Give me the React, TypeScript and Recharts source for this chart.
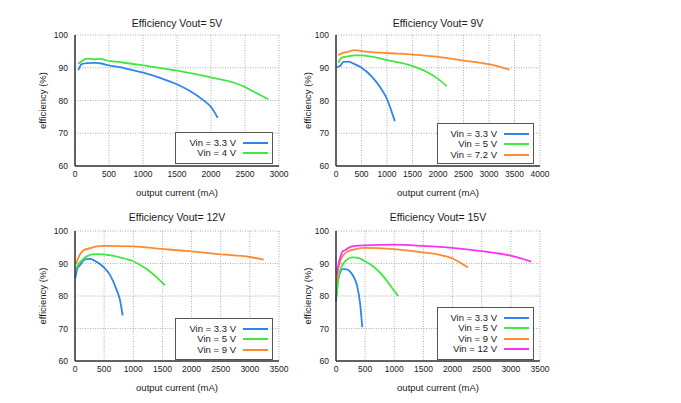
import React from 'react';
import { LineChart, Line, XAxis, YAxis, CartesianGrid, Legend, Label } from 'recharts';

const W = 681;
const H = 403;
const FONT = '"Liberation Sans", Arial, Helvetica, sans-serif';
const TEXT = '#1a1a1a';

const BLUE = '#2f83f2';
const GREEN = '#3fe83f';
const ORANGE = '#ff8a30';
const MAGENTA = '#ff30f4';

// tick labels
const yTicks = [60, 70, 80, 90, 100];
const xTicks3000 = [0, 500, 1000, 1500, 2000, 2500, 3000];
const xTicks4000 = [0, 500, 1000, 1500, 2000, 2500, 3000, 3500, 4000];
const xTicks3500 = [0, 500, 1000, 1500, 2000, 2500, 3000, 3500];

// [output current mA, efficiency %]
// Vout = 5V
const v5Vin33 = [[49, 89.3], [98, 91.1], [172, 91.4], [294, 91.5], [392, 91.3], [500, 90.7], [662, 90.2], [800, 89.5], [1005, 88.5], [1250, 86.9], [1505, 84.9], [1691, 82.9], [1887, 80.1], [2010, 77.8], [2098, 74.7]];
const v5Vin4 = [[49, 91.2], [98, 92.0], [172, 92.8], [270, 92.6], [368, 92.7], [500, 92.1], [700, 91.6], [1005, 90.7], [1505, 89.1], [2010, 87.0], [2328, 85.5], [2510, 84.0], [2672, 82.2], [2843, 80.4]];
// Vout = 9V
const v9Vin33 = [[13, 90.2], [85, 90.6], [143, 91.8], [241, 91.9], [339, 91.3], [502, 90.0], [698, 87.4], [860, 84.2], [1004, 80.3], [1088, 76.7], [1154, 73.7]];
const v9Vin5 = [[46, 91.5], [111, 93.1], [209, 93.4], [372, 93.8], [502, 93.8], [697, 93.4], [1004, 92.3], [1506, 90.5], [1773, 88.8], [2001, 86.6], [2171, 84.4]];
const v9Vin72 = [[46, 93.8], [111, 94.4], [209, 94.8], [372, 95.4], [502, 95.1], [1004, 94.5], [1506, 94.0], [2001, 93.3], [2503, 92.2], [3018, 91.0], [3403, 89.4]];
// Vout = 12V
const v12Vin33 = [[6, 85.5], [40, 88.5], [86, 89.5], [171, 91.3], [257, 91.4], [371, 90.5], [485, 89.0], [600, 86.5], [714, 81.9], [771, 78.8], [817, 74.0]];
const v12Vin5 = [[17, 88.3], [57, 89.8], [114, 90.9], [200, 92.2], [343, 92.9], [485, 92.8], [771, 91.9], [999, 90.7], [1228, 88.3], [1399, 85.8], [1542, 83.3]];
const v12Vin9 = [[17, 89.8], [74, 92.4], [143, 94.0], [257, 94.7], [371, 95.3], [485, 95.4], [999, 95.3], [1485, 94.5], [1999, 93.7], [2496, 92.8], [2998, 92.0], [3238, 91.2]];
// Vout = 15V
const v15Vin33 = [[0, 78.3], [23, 83.4], [58, 86.5], [115, 88.3], [185, 88.2], [242, 87.5], [300, 86.0], [358, 83.4], [416, 77.3], [450, 70.4]];
const v15Vin5 = [[12, 79.9], [40, 85.5], [98, 89.1], [185, 91.1], [271, 91.9], [358, 91.8], [497, 90.7], [647, 89.0], [820, 85.9], [964, 82.4], [1068, 80.0]];
const v15Vin9 = [[12, 84.4], [40, 88.5], [69, 90.5], [127, 92.6], [214, 93.8], [329, 94.4], [497, 94.8], [993, 94.4], [1495, 93.4], [1744, 92.8], [1992, 91.6], [2263, 88.8]];
const v15Vin12 = [[12, 86.5], [40, 89.5], [69, 91.6], [115, 93.8], [156, 94.1], [214, 94.8], [329, 95.4], [497, 95.6], [993, 95.8], [1495, 95.4], [1992, 94.8], [2494, 93.8], [2997, 92.4], [3349, 90.6]];

const toPts = (a: number[][]) => a.map(([current, eff]) => ({ current, eff }));

type Series = { name: string; color: string; data: number[][] };
type Rect = { x0: number; x1: number; y0: number; y1: number };
type Leg = { x: number; y: number; w: number; h: number; textW: number };

type PanelProps = {
  title: string;
  series: Series[];
  xTicks: number[];
  plot: Rect;
  titleY: number;
  xTitleY: number;
  yTitleX: number;
  legend: Leg;
};

function Panel({ title, series, xTicks, plot, titleY, xTitleY, yTitleX, legend }: PanelProps) {
  const Yw = 40;
  const Xh = 30;
  const margin = { left: plot.x0 - Yw, top: plot.y0, right: W - plot.x1, bottom: H - plot.y1 - Xh };
  const cx = (plot.x0 + plot.x1) / 2;
  const cy = (plot.y0 + plot.y1) / 2;
  const tickStyle = { fontSize: 8.5, fill: TEXT, fontFamily: FONT };
  const renderLegend = () => (
    <div
      style={{
        boxSizing: 'border-box',
        width: legend.w,
        height: legend.h,
        border: '1px solid #555',
        background: '#fff',
        paddingTop: 4.5,
        fontFamily: FONT,
        fontSize: 9.5,
        color: TEXT,
      }}
    >
      {series.map((s) => (
        <div key={s.name} style={{ display: 'flex', alignItems: 'center', height: 10.5 }}>
          <div style={{ width: legend.textW, textAlign: 'right', whiteSpace: 'nowrap', lineHeight: '10.5px' }}>
            {s.name}
          </div>
          <div style={{ marginLeft: 7, width: 25, height: 2, background: s.color }} />
        </div>
      ))}
    </div>
  );
  return (
    <div style={{ position: 'absolute', left: 0, top: 0, width: W, height: H }}>
      <div
        style={{
          position: 'absolute',
          left: plot.x0,
          width: plot.x1 - plot.x0,
          top: titleY - 7,
          height: 14,
          lineHeight: '14px',
          textAlign: 'center',
          fontFamily: FONT,
          fontSize: 10.5,
          color: TEXT,
          whiteSpace: 'nowrap',
        }}
      >
        {title}
      </div>
      <LineChart width={W} height={H} margin={margin}>
        <CartesianGrid stroke="#999" strokeDasharray="1 1.5" strokeWidth={0.8} />
        <XAxis
          type="number"
          dataKey="current"
          domain={[0, xTicks[xTicks.length - 1]]}
          ticks={xTicks}
          interval={0}
          height={Xh}
          tickSize={0}
          tickMargin={5}
          tickLine={false}
          tick={tickStyle}
          axisLine={{ stroke: '#333', strokeWidth: 1.5 }}
        >
          <Label
            content={() => (
              <text x={cx} y={xTitleY} textAnchor="middle" dominantBaseline="central" fontSize={9.5} fontFamily={FONT} fill={TEXT}>
                output current (mA)
              </text>
            )}
          />
        </XAxis>
        <YAxis
          type="number"
          domain={[60, 100]}
          ticks={yTicks}
          interval={0}
          width={Yw}
          tickSize={0}
          tickMargin={7}
          tickLine={false}
          tick={tickStyle}
          axisLine={{ stroke: '#333', strokeWidth: 1.5 }}
        >
          <Label
            content={() => (
              <text
                x={yTitleX}
                y={cy}
                transform={`rotate(-90 ${yTitleX} ${cy})`}
                textAnchor="middle"
                dominantBaseline="central"
                fontSize={9.5}
                fontFamily={FONT}
                fill={TEXT}
              >
                efficiency (%)
              </text>
            )}
          />
        </YAxis>
        {series.map((s) => (
          <Line
            key={s.name}
            name={s.name}
            data={toPts(s.data)}
            dataKey="eff"
            type="monotone"
            stroke={s.color}
            strokeWidth={1.8}
            dot={false}
            activeDot={false}
            isAnimationActive={false}
          />
        ))}
        <Legend
          layout="horizontal"
          verticalAlign="middle"
          align="center"
          wrapperStyle={{ left: legend.x, top: legend.y, width: legend.w, height: legend.h }}
          content={renderLegend}
        />
      </LineChart>
    </div>
  );
}

export default function App() {
  return (
    <div style={{ position: 'absolute', left: 0, top: 0, width: W, height: H, background: '#fff', overflow: 'hidden' }}>
      <Panel
        title="Efficiency Vout= 5V"
        xTicks={xTicks3000}
        plot={{ x0: 75, x1: 279, y0: 35, y1: 166 }}
        titleY={22.5}
        xTitleY={192}
        yTitleX={42}
        legend={{ x: 175, y: 132, w: 98, h: 32, textW: 60 }}
        series={[
          { name: 'Vin = 3.3 V', color: BLUE, data: v5Vin33 },
          { name: 'Vin = 4 V', color: GREEN, data: v5Vin4 },
        ]}
      />
      <Panel
        title="Efficiency Vout= 9V"
        xTicks={xTicks4000}
        plot={{ x0: 336, x1: 540, y0: 35, y1: 166 }}
        titleY={22.5}
        xTitleY={192}
        yTitleX={307}
        legend={{ x: 437, y: 123, w: 97, h: 41, textW: 59 }}
        series={[
          { name: 'Vin = 3.3 V', color: BLUE, data: v9Vin33 },
          { name: 'Vin = 5 V', color: GREEN, data: v9Vin5 },
          { name: 'Vin = 7.2 V', color: ORANGE, data: v9Vin72 },
        ]}
      />
      <Panel
        title="Efficiency Vout= 12V"
        xTicks={xTicks3500}
        plot={{ x0: 75, x1: 279, y0: 231, y1: 361 }}
        titleY={217}
        xTitleY={387.5}
        yTitleX={42}
        legend={{ x: 175, y: 318, w: 98, h: 42, textW: 60 }}
        series={[
          { name: 'Vin = 3.3 V', color: BLUE, data: v12Vin33 },
          { name: 'Vin = 5 V', color: GREEN, data: v12Vin5 },
          { name: 'Vin = 9 V', color: ORANGE, data: v12Vin9 },
        ]}
      />
      <Panel
        title="Efficiency Vout= 15V"
        xTicks={xTicks3500}
        plot={{ x0: 336, x1: 540, y0: 231, y1: 361 }}
        titleY={217}
        xTitleY={387.5}
        yTitleX={307}
        legend={{ x: 437, y: 307, w: 97, h: 53, textW: 59 }}
        series={[
          { name: 'Vin = 3.3 V', color: BLUE, data: v15Vin33 },
          { name: 'Vin = 5 V', color: GREEN, data: v15Vin5 },
          { name: 'Vin = 9 V', color: ORANGE, data: v15Vin9 },
          { name: 'Vin = 12 V', color: MAGENTA, data: v15Vin12 },
        ]}
      />
    </div>
  );
}
